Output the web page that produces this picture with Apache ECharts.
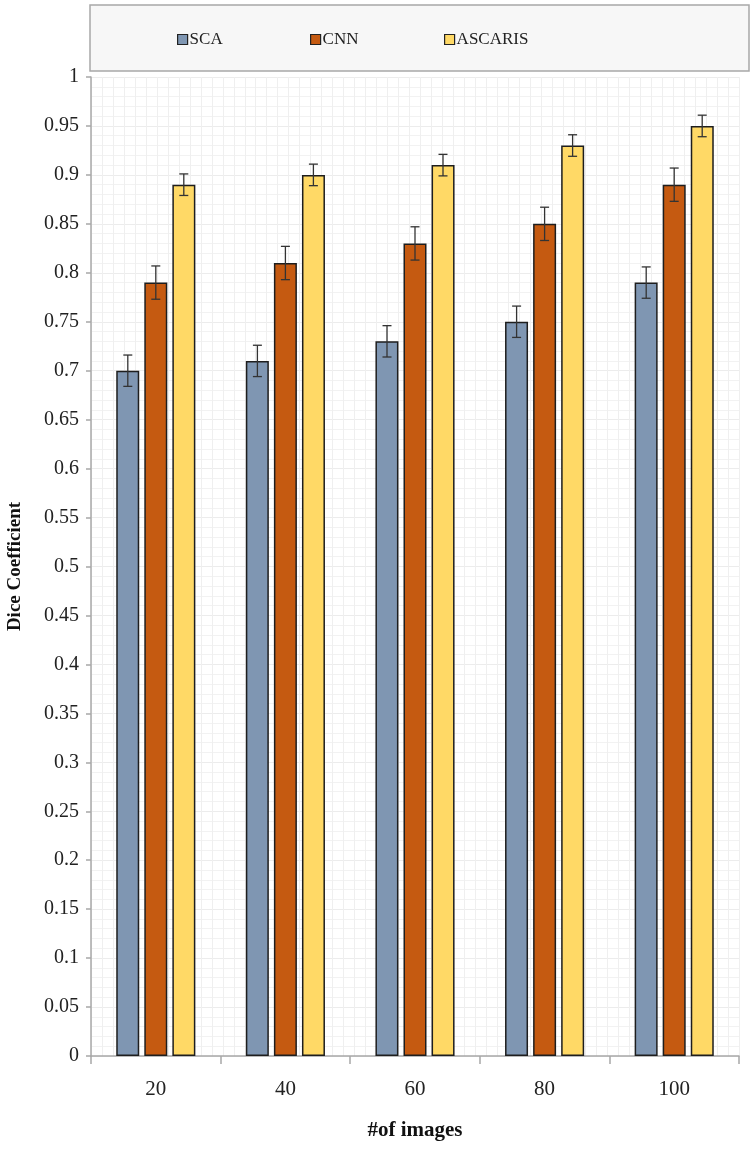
<!DOCTYPE html>
<html>
<head>
<meta charset="utf-8">
<script src="https://cdn.jsdelivr.net/npm/echarts@6/dist/echarts.min.js"></script>
<style>
html,body{margin:0;padding:0;background:#fff;}
#main{width:753px;height:1150px;}
</style>
</head>
<body>
<div id="main"></div>
<script>
// ---- data ----
const categories = ['20', '40', '60', '80', '100'];
const seriesNames = ['SCA', 'CNN', 'ASCARIS'];
const scaValues = [0.70, 0.71, 0.73, 0.75, 0.79];
const cnnValues = [0.79, 0.81, 0.83, 0.85, 0.89];
const ascarisValues = [0.89, 0.90, 0.91, 0.93, 0.95];
const scaErr = [0.016, 0.016, 0.016, 0.016, 0.016];
const cnnErr = [0.017, 0.017, 0.017, 0.017, 0.017];
const ascarisErr = [0.011, 0.011, 0.011, 0.011, 0.011];
const colors = ['#7F96B2', '#C55A11', '#FFD966'];

const BAR_W = 23, BAR_GAP = 5;
const serif = 'Liberation Serif, Times New Roman, serif';

const chart = echarts.init(document.getElementById('main'));

function errSeries(values, errs, idx) {
  const data = values.map((v, i) => [i, v, errs[i]]);
  return {
    type: 'custom',
    name: seriesNames[idx] + ' error',
    xAxisIndex: 0, yAxisIndex: 0,
    z: 10,
    silent: true,
    data: data,
    renderItem: function (params, api) {
      const c = api.value(0);
      const v = api.value(1);
      const e = api.value(2);
      const top = api.coord([c, v + e]);
      const bot = api.coord([c, v - e]);
      const x = top[0] + (idx - 1) * (BAR_W + BAR_GAP);
      const cap = 4.5;
      const st = { stroke: '#333', lineWidth: 1.3 };
      return {
        type: 'group',
        children: [
          { type: 'line', shape: { x1: x, y1: top[1], x2: x, y2: bot[1] }, style: st },
          { type: 'line', shape: { x1: x - cap, y1: top[1], x2: x + cap, y2: top[1] }, style: st },
          { type: 'line', shape: { x1: x - cap, y1: bot[1], x2: x + cap, y2: bot[1] }, style: st }
        ]
      };
    }
  };
}

function barSeries(name, values, color) {
  return {
    type: 'bar',
    name: name,
    xAxisIndex: 0, yAxisIndex: 0,
    data: values,
    barWidth: BAR_W,
    barGap: (BAR_GAP / BAR_W * 100).toFixed(0) + '%',
    itemStyle: { color: color, borderColor: '#1e1e1e', borderWidth: 1.5 }
  };
}

function legendAt(name, left) {
  return {
    data: [name],
    left: left, top: 26,
    itemWidth: 10, itemHeight: 10,
    icon: 'rect',
    itemGap: 0,
    textStyle: { fontFamily: serif, fontSize: 17, color: '#222', padding: [0, 0, 0, -3] },
    itemStyle: { borderColor: '#222', borderWidth: 1.2 }
  };
}

const option = {
  backgroundColor: '#fff',
  animation: false,
  graphic: [{
    type: 'rect',
    shape: { x: 90, y: 5, width: 659, height: 66 },
    style: { fill: '#f7f7f7', stroke: '#a8a8a8', lineWidth: 1.5 },
    z: -1
  }],
  legend: [legendAt('SCA', 172), legendAt('CNN', 305), legendAt('ASCARIS', 439)],
  grid: { left: 91, right: 14, top: 77, bottom: 94, containLabel: false, outerBoundsMode: 'none' },
  xAxis: [{
    type: 'category',
    data: categories,
    name: '#of images',
    nameLocation: 'middle',
    nameGap: 64,
    nameTextStyle: { fontFamily: serif, fontSize: 21, fontWeight: 'bold', color: '#111' },
    axisLine: { lineStyle: { color: '#a8a8a8', width: 1.5 } },
    axisTick: { show: true, length: 8, lineStyle: { color: '#a8a8a8', width: 1.5 } },
    axisLabel: { fontFamily: serif, fontSize: 21, color: '#222', margin: 23 },
    splitLine: { show: false }
  }, {
    type: 'value',
    min: 0, max: 59, interval: 1,
    show: true,
    axisLine: { show: false }, axisTick: { show: false }, axisLabel: { show: false },
    splitLine: { show: true, lineStyle: { color: '#efefef', width: 1 } }
  }],
  yAxis: [{
    type: 'value',
    min: 0, max: 1, interval: 0.05,
    name: 'Dice Coefficient',
    nameLocation: 'middle',
    nameGap: 66,
    nameRotate: 90,
    nameTextStyle: { fontFamily: serif, fontSize: 19, fontWeight: 'bold', color: '#111' },
    axisLine: { show: true, lineStyle: { color: '#a8a8a8', width: 1.5 } },
    axisTick: { show: true, length: 5, lineStyle: { color: '#a8a8a8', width: 1.5 } },
    axisLabel: { fontFamily: serif, fontSize: 20, color: '#222', margin: 12 },
    splitLine: { show: true, lineStyle: { color: '#ececec', width: 1 } },
    minorTick: { show: false, splitNumber: 5 },
    minorSplitLine: { show: true, lineStyle: { color: '#f2f2f2', width: 1 } }
  }],
  series: [
    barSeries('SCA', scaValues, colors[0]),
    barSeries('CNN', cnnValues, colors[1]),
    barSeries('ASCARIS', ascarisValues, colors[2]),
    errSeries(scaValues, scaErr, 0),
    errSeries(cnnValues, cnnErr, 1),
    errSeries(ascarisValues, ascarisErr, 2)
  ]
};
chart.setOption(option);
</script>
</body>
</html>
